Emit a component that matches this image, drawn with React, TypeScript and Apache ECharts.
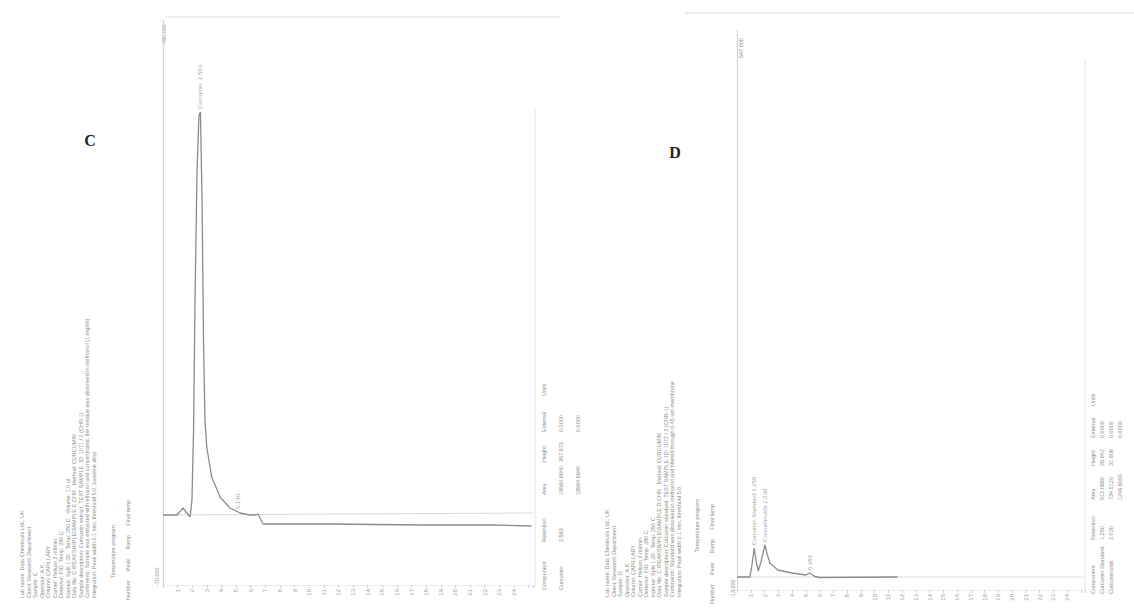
import React, { useEffect, useRef } from "react";
import * as echarts from "echarts";

// ---------- Panel C (retention time, min / signal) ----------
const timeC = [0, 0.96, 1.37, 1.57, 1.85, 1.98, 2.09, 2.19, 2.33, 2.46, 2.56, 2.67, 2.77, 2.87, 2.99, 3.33, 3.9, 4.58, 5.27, 5.95, 6.36, 6.5, 6.7, 6.84, 11.4, 17.6, 22.4, 25.2];
const signalC = [0, 0, 7, 3, -2, 15, 85, 215, 345, 400, 403, 315, 175, 95, 68, 38, 18, 7, 2, 0, 0, 1, -5, -9, -9, -10, -10, -11];
const baseTimeC = [0, 25.3];
const baseSignalC = [0, 2];
const peakTimeC = [2.56, 5.13];
const peakSignalC = [403, 3];
const peakNameC = ["Curcumin  2.563", "5.140"];
const yRangeC = [-70, 495];

// ---------- Panel D ----------
const timeD = [0, 0.94, 1.09, 1.25, 1.38, 1.54, 1.74, 2.03, 2.17, 2.39, 2.97, 3.99, 5.0, 5.29, 5.65, 6.0, 11.67];
const signalD = [0, 0, 12, 29, 17, 6, 15, 32, 24, 14, 7, 4, 2, 4, 0.5, -0.5, 0];
const baseTimeD = [0, 25.2];
const baseSignalD = [0, 0];
const peakTimeD = [1.25, 2.03, 5.29];
const peakSignalD = [29, 32, 4];
const peakNameD = ["Curcumin Standard 1.250", "Curcuminoids 2.030", "5.286"];
const yRangeD = [-13, 547];

const xMax = 25.3;
const tickLabels = ["1", "2", "3", "4", "5", "6", "7", "8", "9", "10", "11", "12", "13", "14", "15", "16", "17", "18", "19", "20", "21", "22", "23", "24"];

// report side texts (rotated in the scan)
const leftTextC = [
  "Lab name: Data Chemicals Ltd., UK",
  "Client: Research Department",
  "Sample: C",
  "Operator: A.K.",
  "Column: CAPILLARY",
  "Carrier: Helium 2 ml/min",
  "Detector: FID  Temp: 280 C",
  "Injector: Split 1:20   Temp: 250 C   Volume: 1.0 ul",
  "Data file: C:\\PEAKSIMPLE\\SAMPLE C.CHR   Method: CURCUMIN",
  "Sample description: Curcumin extract, TEST SAMPLE  ID: 1071 / 2 (CHR-1)",
  "Comments: Sample was extracted with ethanol and concentrated, the residue was dissolved in methanol (1 mg/ml)",
  "Integration: Peak width 0.1 min, threshold 5.0, baseline drop",
];
const leftTextD = [
  "Lab name: Data Chemicals Ltd., UK",
  "Client: Research Department",
  "Sample: D",
  "Operator: A.K.",
  "Column: CAPILLARY",
  "Carrier: Helium 2 ml/min",
  "Detector: FID  Temp: 280 C",
  "Injector: Split 1:20   Temp: 250 C",
  "Data file: C:\\PEAKSIMPLE\\SAMPLE D.CHR   Method: CURCUMIN",
  "Sample description: Curcumin standard, TEST SAMPLE  ID: 1072 / 2 (CHR-1)",
  "Comments: Standard was dissolved in methanol and filtered through 0.45 um membrane",
  "Integration: Peak width 0.1 min, threshold 5.0",
];
const tableHeader = ["Component", "Retention", "Area", "Height", "External", "Units"];
const tableRowC = ["Curcumin", "2.563", "19564.6640", "357.573", "0.0000", ""];
const tableTotalC = ["", "", "19564.6640", "", "0.0000", ""];
const tableRowD = ["Curcumin Standard", "1.250", "512.0880", "28.942", "0.0000", ""];
const tableRow2D = ["Curcuminoids", "2.030", "734.5120", "31.806", "0.0000", ""];
const tableTotalD = ["", "", "1246.6000", "", "0.0000", ""];

const pairs = (xs: number[], ys: number[]) => xs.map((x, i) => [x, ys[i]]);

const GREY = "#8e8e8e";
const FONT = "Liberation Sans, Arial, sans-serif";

function vText(x: number, y: number, text: string, size = 5.5, color = GREY) {
  return {
    type: "text",
    x,
    y,
    rotation: Math.PI / 2,
    silent: true,
    style: {
      text,
      fill: color,
      font: `${size}px ${FONT}`,
      textAlign: "left",
      textVerticalAlign: "middle",
      verticalAlign: "middle",
    },
  };
}

function tableTexts(x0: number, colGap: number, yBottoms: number[], rows: string[][]) {
  const out: any[] = [];
  rows.forEach((row, r) => {
    row.forEach((cell, c) => {
      if (cell) out.push(vText(x0 + r * colGap, yBottoms[c], cell, 5.5));
    });
  });
  return out;
}

export default function App() {
  const ref = useRef<HTMLDivElement>(null);
  useEffect(() => {
    if (!ref.current) return;
    const chart = echarts.init(ref.current, undefined, { renderer: "svg" });

    const xAxisCommon = (gridIndex: number) => ({
      type: "value",
      gridIndex,
      min: 0,
      max: xMax,
      interval: 1,
      axisLine: { show: true, onZero: false, lineStyle: { color: "#ececec", width: 1 } },
      axisTick: { show: true, length: 3, lineStyle: { color: "#d0d0d0" } },
      splitLine: { show: false },
      axisLabel: {
        show: true,
        rotate: 90,
        fontSize: 6,
        color: "#9c9c9c",
        margin: 4,
        fontFamily: FONT,
        formatter: (v: number) => (v >= 1 && v <= tickLabels.length ? tickLabels[v - 1] : ""),
      },
    });
    const yAxisCommon = (gridIndex: number, r: number[]) => ({
      type: "value",
      gridIndex,
      min: r[0],
      max: r[1],
      axisLine: { show: true, onZero: false, lineStyle: { color: "#d4d4d4", width: 1.2 } },
      axisTick: { show: false },
      axisLabel: { show: false },
      splitLine: { show: false },
    });

    const peakLabel = {
      show: true,
      position: "top",
      rotate: 90,
      align: "left",
      verticalAlign: "middle",
      distance: 3,
      fontSize: 6,
      color: "#888888",
      fontFamily: FONT,
      formatter: (p: any) => p.data[2],
    };

    const leftBlock = (x0: number, gap: number, yb: number, lines: string[]) =>
      lines.map((t, i) => vText(x0 + i * gap, yb, t, 5.5, "#8e8e8e"));

    const graphic: any[] = [
      // panel letters
      { type: "text", x: 90, y: 140, silent: true, style: { text: "C", fill: "#222", font: "bold 16px 'Liberation Serif', 'DejaVu Serif', serif", textAlign: "center", textVerticalAlign: "middle", verticalAlign: "middle" } },
      { type: "text", x: 675, y: 152, silent: true, style: { text: "D", fill: "#222", font: "bold 16px 'Liberation Serif', 'DejaVu Serif', serif", textAlign: "center", textVerticalAlign: "middle", verticalAlign: "middle" } },
      // scan edges / plot frames
      { type: "line", silent: true, shape: { x1: 685, y1: 13, x2: 1134, y2: 13 }, style: { stroke: "#ebebeb", lineWidth: 2 } },
      { type: "line", silent: true, shape: { x1: 165, y1: 17, x2: 560, y2: 17 }, style: { stroke: "#f0f0f0", lineWidth: 2 } },
      { type: "line", silent: true, shape: { x1: 535, y1: 108, x2: 535, y2: 587 }, style: { stroke: "#e4e4e4", lineWidth: 1 } },
      { type: "line", silent: true, shape: { x1: 1085, y1: 60, x2: 1085, y2: 592 }, style: { stroke: "#e6e6e6", lineWidth: 1 } },
      // y-axis end labels
      vText(164, 44, yRangeC[1].toFixed(3), 5.5, "#8c8c8c"),
      vText(157, 586, yRangeC[0].toFixed(3), 5.5, "#8c8c8c"),
      vText(741, 58, yRangeD[1].toFixed(3), 5.5, "#8c8c8c"),
      vText(733, 598, yRangeD[0].toFixed(3), 5.5, "#8c8c8c"),
      // report text blocks
      ...leftBlock(22, 6.5, 598, leftTextC),
      vText(113, 578, "Temperature program", 5.5, "#8e8e8e"),
      vText(128, 600, "Number      Peak      Ramp      Final temp", 5.5, "#8e8e8e"),
      ...leftBlock(607, 6.5, 597, leftTextD),
      vText(697, 552, "Temperature program", 5.5, "#8e8e8e"),
      vText(712, 604, "Number      Peak      Ramp      Final temp", 5.5, "#8e8e8e"),
      // results tables
      ...tableTexts(544, 17, [590, 542, 495, 462, 432, 396], [tableHeader, tableRowC, tableTotalC]),
      ...tableTexts(1093, 9, [594, 540, 500, 466, 438, 406], [tableHeader, tableRowD, tableRow2D, tableTotalD]),
    ];

    chart.setOption({
      animation: false,
      backgroundColor: "#ffffff",
      grid: [
        { left: 163, top: 20, width: 370, height: 565 },
        { left: 737, top: 30, width: 348, height: 560 },
      ],
      xAxis: [xAxisCommon(0), xAxisCommon(1)],
      yAxis: [yAxisCommon(0, yRangeC), yAxisCommon(1, yRangeD)],
      series: [
        {
          type: "line", xAxisIndex: 0, yAxisIndex: 0, silent: true, showSymbol: false,
          data: pairs(baseTimeC, baseSignalC), lineStyle: { color: "#dadada", width: 1 },
        },
        {
          type: "line", xAxisIndex: 0, yAxisIndex: 0, silent: true, showSymbol: false,
          data: pairs(timeC, signalC), lineStyle: { color: "#8c8c8c", width: 1.3 },
        },
        {
          type: "scatter", xAxisIndex: 0, yAxisIndex: 0, silent: true, symbolSize: 0,
          data: peakTimeC.map((t, i) => [t, peakSignalC[i], peakNameC[i]]), label: peakLabel,
        },
        {
          type: "line", xAxisIndex: 1, yAxisIndex: 1, silent: true, showSymbol: false,
          data: pairs(baseTimeD, baseSignalD), lineStyle: { color: "#dadada", width: 1 },
        },
        {
          type: "line", xAxisIndex: 1, yAxisIndex: 1, silent: true, showSymbol: false,
          data: pairs(timeD, signalD), lineStyle: { color: "#8c8c8c", width: 1.3 },
        },
        {
          type: "scatter", xAxisIndex: 1, yAxisIndex: 1, silent: true, symbolSize: 0,
          data: peakTimeD.map((t, i) => [t, peakSignalD[i], peakNameD[i]]), label: peakLabel,
        },
      ],
      graphic,
    });
    return () => chart.dispose();
  }, []);

  return <div ref={ref} style={{ width: 1134, height: 616, position: "absolute", left: 0, top: 0 }} />;
}
